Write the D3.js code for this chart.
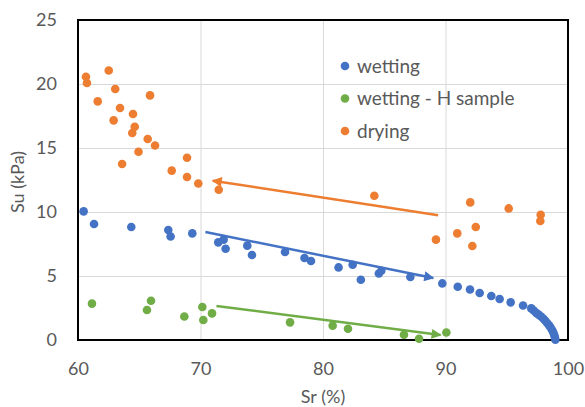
<!DOCTYPE html>
<html>
<head>
<meta charset="utf-8">
<script src="https://cdn.jsdelivr.net/npm/d3@7"></script>
<style>
  html, body { margin: 0; padding: 0; background: #fff; }
  svg { display: block; }
  text { font-family: Lato, "Open Sans", sans-serif; fill: #595959; }
</style>
</head>
<body>
<svg id="chart" width="585" height="407"></svg>
<script>
// Degree of saturation Sr (%) and undrained shear strength Su (kPa)
const wettingSr = [60.46, 61.31, 64.35, 67.37, 67.56, 69.33, 71.45, 71.89, 72.05, 73.82, 74.20,
  76.90, 78.49, 79.02, 81.27, 82.42, 83.09, 84.56, 84.76, 87.13, 89.74, 91.00, 92.00, 92.79,
  93.74, 94.42, 95.32, 96.33, 97.00, 97.20, 97.40, 97.60, 97.80, 98.00, 98.15, 98.30, 98.45,
  98.58, 98.70, 98.80, 98.88, 98.94, 98.97];
const wettingSu = [10.05, 9.06, 8.83, 8.59, 8.09, 8.33, 7.63, 7.84, 7.13, 7.37, 6.64,
  6.88, 6.41, 6.17, 5.67, 5.88, 4.71, 5.20, 5.41, 4.92, 4.42, 4.16, 3.95, 3.67,
  3.44, 3.20, 2.94, 2.70, 2.47, 2.30, 2.12, 1.98, 1.84, 1.66, 1.50, 1.33, 1.15,
  0.97, 0.78, 0.58, 0.38, 0.18, 0.02];

const wettingHSr = [61.14, 65.63, 65.96, 68.68, 70.15, 70.23, 70.94, 77.31, 80.79, 82.04, 86.61, 87.84, 90.07];
const wettingHSu = [2.84, 2.34, 3.07, 1.84, 2.58, 1.56, 2.08, 1.38, 1.12, 0.88, 0.41, 0.10, 0.59];

const dryingSr = [60.65, 60.73, 62.51, 63.04, 61.61, 63.43, 64.49, 62.91, 64.63, 64.43, 65.88,
  65.69, 66.29, 64.94, 63.60, 67.65, 68.90, 68.90, 69.82, 71.49, 84.19, 89.22, 90.96,
  92.02, 92.47, 92.19, 95.16, 97.77, 97.74];
const dryingSu = [20.57, 20.08, 21.06, 19.61, 18.64, 18.13, 17.66, 17.16, 16.66, 16.17, 19.11,
  15.70, 15.20, 14.71, 13.75, 13.23, 14.24, 12.73, 12.23, 11.74, 11.27, 7.84, 8.33,
  10.75, 8.83, 7.34, 10.28, 9.79, 9.30];

const seriesNames = ["wetting", "wetting - H sample", "drying"];
const seriesColors = ["#4472C4", "#70AD47", "#ED7D31"];

// Trend arrows: [Sr, Su] start and end
const arrowSeries = [2, 0, 1];
const arrowFromSr = [89.4, 70.4, 71.3];
const arrowFromSu = [9.74, 8.44, 2.66];
const arrowToSr = [71.0, 89.0, 89.6];
const arrowToSu = [12.45, 4.84, 0.39];

const xTicks = [60, 70, 80, 90, 100];
const yTicks = [0, 5, 10, 15, 20, 25];

const svg = d3.select("#chart");
const plot = { left: 78, right: 568, top: 20, bottom: 340 };

const x = d3.scaleLinear().domain([60, 100]).range([plot.left, plot.right]);
const y = d3.scaleLinear().domain([0, 25]).range([plot.bottom, plot.top]);

// Gridlines
svg.append("g")
  .attr("transform", `translate(0,${plot.bottom})`)
  .call(d3.axisBottom(x).tickValues(xTicks).tickSize(-(plot.bottom - plot.top)).tickFormat(""))
  .call(g => g.select(".domain").remove())
  .call(g => g.selectAll("line").attr("stroke", "#D9D9D9").attr("stroke-width", 1));
svg.append("g")
  .attr("transform", `translate(${plot.left},0)`)
  .call(d3.axisLeft(y).tickValues(yTicks).tickSize(-(plot.right - plot.left)).tickFormat(""))
  .call(g => g.select(".domain").remove())
  .call(g => g.selectAll("line").attr("stroke", "#D9D9D9").attr("stroke-width", 1));

// Tick labels
const xAxis = svg.append("g")
  .attr("transform", `translate(0,${plot.bottom})`)
  .call(d3.axisBottom(x).tickValues(xTicks).tickSize(0).tickPadding(22));
xAxis.select(".domain").remove();
xAxis.selectAll("text").attr("font-size", 18).attr("fill", "#595959")
  .attr("font-family", "Lato, 'Open Sans', sans-serif");

const yAxis = svg.append("g")
  .attr("transform", `translate(${plot.left},0)`)
  .call(d3.axisLeft(y).tickValues(yTicks).tickSize(0).tickPadding(21));
yAxis.select(".domain").remove();
yAxis.selectAll("text").attr("font-size", 18).attr("fill", "#595959")
  .attr("font-family", "Lato, 'Open Sans', sans-serif");

// Plot frame
svg.append("rect")
  .attr("x", plot.left).attr("y", plot.top)
  .attr("width", plot.right - plot.left).attr("height", plot.bottom - plot.top)
  .attr("fill", "none").attr("stroke", "#000").attr("stroke-width", 2);

// Axis titles
svg.append("text")
  .attr("x", (plot.left + plot.right) / 2).attr("y", 403)
  .attr("text-anchor", "middle").attr("font-size", 18)
  .text("Sr (%)");
svg.append("text")
  .attr("transform", `translate(24,${(plot.top + plot.bottom) / 2 + 2}) rotate(-90)`)
  .attr("text-anchor", "middle").attr("font-size", 18)
  .text("Su (kPa)");

// Scatter points
const seriesData = [
  d3.zip(wettingSr, wettingSu),
  d3.zip(wettingHSr, wettingHSu),
  d3.zip(dryingSr, dryingSu)
];
seriesData.forEach((pts, i) => {
  svg.append("g").selectAll("circle").data(pts).join("circle")
    .attr("cx", d => x(d[0])).attr("cy", d => y(d[1]))
    .attr("r", 4.3).attr("fill", seriesColors[i]);
});

// Arrow markers and trend arrows
const defs = svg.append("defs");
seriesColors.forEach((c, i) => {
  defs.append("marker")
    .attr("id", "head" + i)
    .attr("viewBox", "0 0 10 10")
    .attr("refX", 9).attr("refY", 5)
    .attr("markerUnits", "userSpaceOnUse")
    .attr("markerWidth", 11).attr("markerHeight", 10)
    .attr("orient", "auto")
    .append("path").attr("d", "M0,0 L10,5 L0,10 Z").attr("fill", c);
});
arrowSeries.forEach((s, i) => {
  const x1 = x(arrowFromSr[i]), y1 = y(arrowFromSu[i]);
  const x2 = x(arrowToSr[i]), y2 = y(arrowToSu[i]);
  svg.append("line")
    .attr("x1", x1).attr("y1", y1).attr("x2", x2).attr("y2", y2)
    .attr("stroke", seriesColors[s]).attr("stroke-width", 2.5)
    .attr("marker-end", `url(#head${s})`);
});

// Legend
const legend = svg.append("g");
seriesNames.forEach((name, i) => {
  const ly = 66 + i * 32.5;
  legend.append("circle").attr("cx", 345).attr("cy", ly).attr("r", 4.3).attr("fill", seriesColors[i]);
  legend.append("text").attr("x", 357).attr("y", ly).attr("dy", "0.35em")
    .attr("font-size", 19).text(name);
});
</script>
</body>
</html>
